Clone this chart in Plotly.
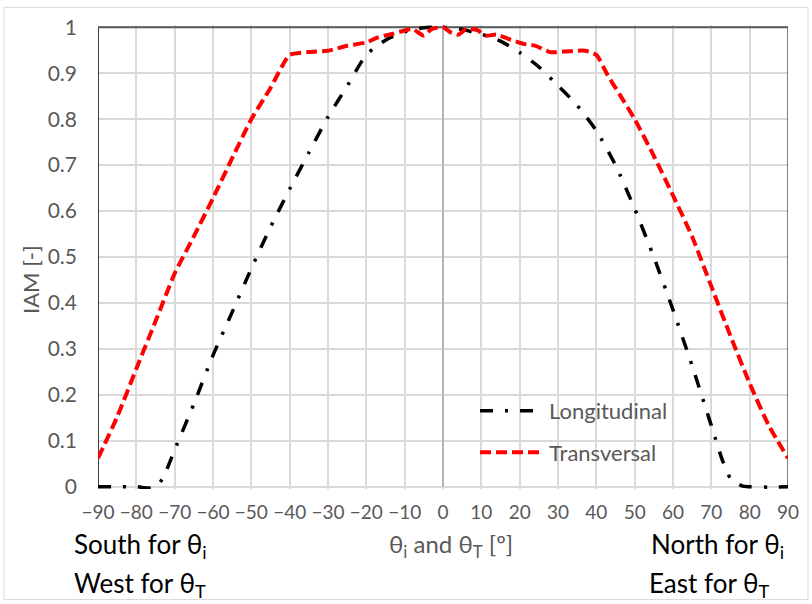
import plotly.graph_objects as go

# ---- data ----
x_long = [-90, -85, -80, -77, -75, -73, -70, -65, -60, -55, -50, -45, -40, -35, -30, -25, -20, -15, -10, -5,
          0, 5, 10, 15, 20, 25, 30, 35, 40, 45, 50, 55, 60, 65, 70, 73, 75, 78, 80, 85, 90]
y_long = [0.0, 0.0, 0.0, -0.003, -0.002, 0.02, 0.08, 0.18, 0.286, 0.38, 0.475, 0.565, 0.648, 0.727, 0.805, 0.872,
          0.94, 0.972, 0.99, 0.999, 1.0, 0.995, 0.985, 0.97, 0.945, 0.914, 0.873, 0.83, 0.775, 0.70, 0.605, 0.50,
          0.385, 0.263, 0.133, 0.055, 0.018, 0.002, 0.0, -0.001, 0.0]

x_trans = [-90, -85, -80, -75, -70, -65, -60, -55, -50, -45, -42, -40, -35, -30, -25, -20, -17, -13, -8, -5, -3,
           0, 2, 4, 6, 9, 11, 14, 17, 21, 24, 28, 33, 37, 40, 43, 46, 50, 55, 60, 65, 70, 75, 80, 85, 90]
y_trans = [0.062, 0.152, 0.257, 0.36, 0.464, 0.545, 0.628, 0.715, 0.8, 0.868, 0.915, 0.94, 0.946, 0.949, 0.96,
           0.967, 0.978, 0.986, 0.996, 0.982, 0.996, 1.0, 0.989, 0.984, 0.996, 0.994, 0.982, 0.984, 0.975, 0.964,
           0.96, 0.946, 0.948, 0.949, 0.94, 0.895, 0.855, 0.8, 0.72, 0.634, 0.544, 0.436, 0.328, 0.225, 0.133, 0.062]

x_tick_vals = list(range(-90, 91, 10))
y_tick_vals = [0, 0.1, 0.2, 0.3, 0.4, 0.5, 0.6, 0.7, 0.8, 0.9, 1.0]
y_tick_text = ["0", "0.1", "0.2", "0.3", "0.4", "0.5", "0.6", "0.7", "0.8", "0.9", "1"]

series_names = ["Longitudinal", "Transversal"]
y_title = "IAM [-]"
x_title = "θ<sub>i</sub> and θ<sub>T</sub> [º]"
corner_texts = ["South for θ<sub>i</sub>", "West for θ<sub>T</sub>",
                "North for θ<sub>i</sub>", "East for θ<sub>T</sub>"]

# ---- layout helpers (pixel -> paper) ----
W, H = 812, 604
L, R = 98, 788
TOP, BOT = 24.7, 489.3


def px(x):
    return (x - L) / (R - L)


def py(y):
    return (BOT - y) / (BOT - TOP)


FONT = "Lato, 'Open Sans', sans-serif"
GRAY = "#595959"

fig = go.Figure()
fig.add_trace(go.Scatter(
    x=x_long, y=y_long, mode="lines", name=series_names[0], legendgroup="a",
    line=dict(color="black", width=3.5, dash="13px,12px,3px,12px", shape="spline", smoothing=0.6),
))
fig.add_trace(go.Scatter(
    x=x_trans, y=y_trans, mode="lines", name=series_names[1], legendgroup="b",
    line=dict(color="#ff0000", width=4, dash="11px,5px", shape="spline", smoothing=0.6),
))

fig.update_layout(
    width=W, height=H, autosize=False,
    margin=dict(l=L, r=W - R, t=TOP, b=H - BOT, pad=0),
    paper_bgcolor="white", plot_bgcolor="white",
    font=dict(family=FONT, color=GRAY),
    showlegend=True,
    legend=dict(
        x=px(475), y=py(390), xanchor="left", yanchor="top",
        bgcolor="rgba(0,0,0,0)", borderwidth=0, font=dict(size=22, color=GRAY, family=FONT),
        itemwidth=64, tracegroupgap=10, traceorder="grouped",
    ),
    xaxis=dict(
        range=[-90, 90], tickvals=x_tick_vals, showgrid=True, gridcolor="#d9d9d9", gridwidth=1.5,
        zeroline=False, showline=False, ticks="", tickangle=0,
        tickfont=dict(size=19, color=GRAY, family=FONT), ticklabelstandoff=10,
    ),
    yaxis=dict(
        range=[-0.005, 1.005], tickvals=y_tick_vals, ticktext=y_tick_text, showgrid=True,
        gridcolor="#d9d9d9", gridwidth=1.5, zeroline=False, showline=False, ticks="",
        tickfont=dict(size=21, color=GRAY, family=FONT), ticklabelstandoff=20,
    ),
)

# legend background box (covers gridlines like the reference)
fig.add_shape(type="rect", xref="paper", yref="paper",
              x0=px(457), x1=px(690), y0=py(483), y1=py(388),
              fillcolor="white", line=dict(width=0), layer="between")
# axis frame lines
fig.add_shape(type="line", x0=-90, x1=-90, y0=0, y1=1, xref="x", yref="y",
              line=dict(color="black", width=1.5), layer="between")
fig.add_shape(type="line", x0=90, x1=90, y0=0, y1=1, xref="x", yref="y",
              line=dict(color="#595959", width=1.5), layer="between")
fig.add_shape(type="line", x0=-90, x1=90, y0=1, y1=1, xref="x", yref="y",
              line=dict(color="#595959", width=2), layer="between")
fig.add_shape(type="line", x0=0, x1=0, y0=0, y1=1, xref="x", yref="y",
              line=dict(color="#a6a6a6", width=1.5), layer="between")
# chart-area border
fig.add_shape(type="rect", xref="paper", yref="paper",
              x0=px(4), x1=px(808), y0=py(600), y1=py(7),
              line=dict(color="#d9d9d9", width=1), layer="below")

# titles / annotations
fig.add_annotation(text=y_title, x=px(31), y=py(280), xref="paper", yref="paper",
                   xanchor="center", yanchor="middle",
                   textangle=-90, showarrow=False, font=dict(size=22, color=GRAY, family=FONT))
fig.add_annotation(text=x_title, x=px(451), y=py(546), xref="paper", yref="paper",
                   xanchor="center", yanchor="middle", showarrow=False,
                   font=dict(size=24, color=GRAY, family=FONT))
fig.add_annotation(text=corner_texts[0], x=px(72), y=py(546), xref="paper", yref="paper",
                   xanchor="left", yanchor="middle", showarrow=False,
                   font=dict(size=26, color="black", family=FONT))
fig.add_annotation(text=corner_texts[1], x=px(72), y=py(585), xref="paper", yref="paper",
                   xanchor="left", yanchor="middle", showarrow=False,
                   font=dict(size=26, color="black", family=FONT))
fig.add_annotation(text=corner_texts[2], x=px(786), y=py(546), xref="paper", yref="paper",
                   xanchor="right", yanchor="middle", showarrow=False,
                   font=dict(size=26, color="black", family=FONT))
fig.add_annotation(text=corner_texts[3], x=px(647), y=py(585), xref="paper", yref="paper",
                   xanchor="left", yanchor="middle", showarrow=False,
                   font=dict(size=26, color="black", family=FONT))

fig.write_html("out.html")
